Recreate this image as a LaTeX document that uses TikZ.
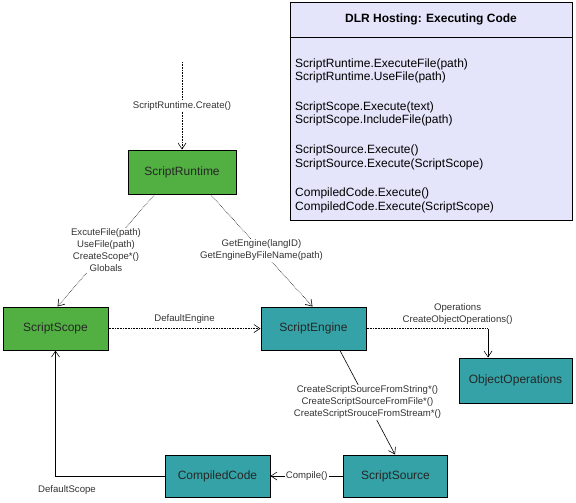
\documentclass[tikz,border=0pt]{standalone}
\usepackage{fontspec}
\setmainfont{Liberation Sans}
\usetikzlibrary{arrows.meta}
\definecolor{grn}{RGB}{82,176,66}
\definecolor{tea}{RGB}{52,162,166}
\definecolor{lav}{RGB}{228,228,250}
\begin{document}
\begin{tikzpicture}[x=1pt,y=-1pt,
  box/.style={draw=black,line width=1pt,rectangle,inner sep=0pt,font=\fontsize{12}{14}\selectfont,text=black!85},
  gbox/.style={box,fill=grn},
  tbox/.style={box,fill=tea},
  lbl/.style={font=\fontsize{9.6}{12}\selectfont,text=black!80,inner sep=1pt,align=center},
  dotline/.style={densely dotted,line width=0.6pt},
  solidline/.style={line width=0.6pt},
  arr/.style={-{Straight Barb[length=6pt,width=8pt,line width=0.6pt]}},
  leg/.style={anchor=base west,inner sep=0pt,font=\fontsize{12}{14}\selectfont}]
\useasboundingbox (0,0) rectangle (576,503);
% legend
\node[draw=black,line width=0.8pt,fill=lav,minimum width=282pt,minimum height=218pt,inner sep=0pt] (legend) at (431,111) {};
\node[font=\bfseries\fontsize{12}{14}\selectfont] (title) at (431,19) {DLR Hosting: Executing Code};
\draw[line width=0.8pt] (legend.west |- 0,37) -- (legend.east |- 0,37);
\node[leg] (l1) at (295,67) {ScriptRuntime.ExecuteFile(path)};
\node[leg] (l2) at (295,80.5) {ScriptRuntime.UseFile(path)};
\node[leg] (l3) at (295,110.5) {ScriptScope.Execute(text)};
\node[leg] (l4) at (295,124) {ScriptScope.IncludeFile(path)};
\node[leg] (l5) at (295,153.5) {ScriptSource.Execute()};
\node[leg] (l6) at (295,167) {ScriptSource.Execute(ScriptScope)};
\node[leg] (l7) at (295,196.5) {CompiledCode.Execute()};
\node[leg] (l8) at (295,210) {CompiledCode.Execute(ScriptScope)};
% nodes
\node[gbox,minimum width=108pt,minimum height=44pt] (rt) at (182,172) {ScriptRuntime};
\node[gbox,minimum width=105pt,minimum height=43pt] (scope) at (55.5,328.5) {ScriptScope};
\node[tbox,minimum width=105pt,minimum height=43pt] (eng) at (313.5,328.5) {ScriptEngine};
\node[tbox,minimum width=113pt,minimum height=45pt] (objops) at (515.5,380.5) {ObjectOperations};
\node[tbox,minimum width=105pt,minimum height=42pt] (cc) at (217.5,476) {CompiledCode};
\node[tbox,minimum width=104pt,minimum height=42pt] (src) at (395.5,476) {ScriptSource};
% connectors
\coordinate (start) at (182,62);
\draw[dotline,arr] (start) -- (rt.north) node[midway,lbl,fill=white] {ScriptRuntime.Create()};
\draw[dotline,arr] ([xshift=27pt]rt.south west) -- ([xshift=2pt]scope.north)
  node[midway,lbl,fill=white] {ExcuteFile(path)\\UseFile(path)\\CreateScope*()\\Globals};
\draw[dotline,arr] ([xshift=-26pt]rt.south east) -- ([xshift=-1pt]eng.north)
  node[midway,lbl,fill=white] {GetEngine(langID)\\GetEngineByFileName(path)};
\draw[dotline,arr] (scope.east) -- (eng.west) node[midway,lbl,above=4pt] {DefaultEngine};
\coordinate (bend) at ([xshift=-27.5pt]objops.north |- eng.east);
\draw[dotline] (eng.east) -- (bend) node[pos=0.75,lbl,above=3pt] {Operations\\CreateObjectOperations()};
\draw[solidline,arr] (bend) -- ([xshift=-27.5pt]objops.north);
\draw[solidline,arr] ([xshift=26.5pt]eng.south) -- ([xshift=-0.5pt]src.north)
  node[midway,lbl,fill=white] {CreateScriptSourceFromString*()\\CreateScriptSourceFromFile*()\\CreateScriptSrouceFromStream*()};
\draw[solidline,arr] (src.west) -- (cc.east) node[midway,lbl,fill=white] {Compile()};
\coordinate (corner) at (scope.south |- cc.west);
\draw[solidline,arr] (cc.west) -- (corner) -- (scope.south);
\node[lbl] (dslbl) at (67,490) {DefaultScope};
\end{tikzpicture}
\end{document}
